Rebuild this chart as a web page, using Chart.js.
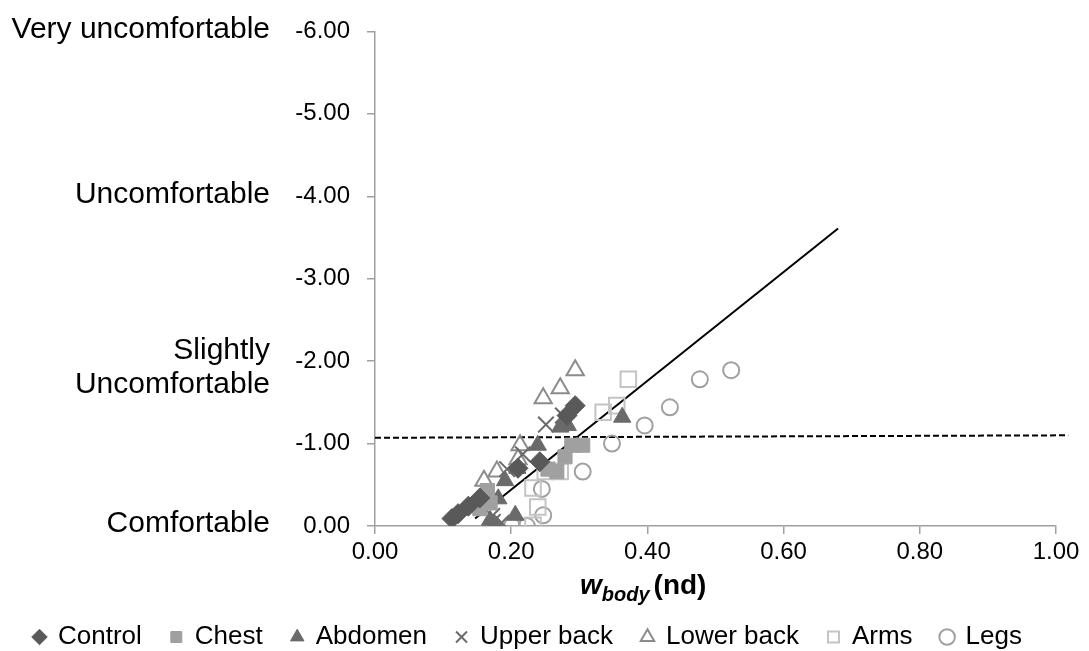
<!DOCTYPE html>
<html>
<head>
<meta charset="utf-8">
<script src="https://cdn.jsdelivr.net/npm/chart.js@4"></script>
<style>
  html, body { margin: 0; padding: 0; background: #fff; }
</style>
</head>
<body>
<canvas id="comfortChart" width="1089" height="651"></canvas>
<script>
// w_body (x) and comfort vote (y) per body region
const controlX = [0.113, 0.122, 0.137, 0.154, 0.210, 0.242, 0.282, 0.294];
const controlY = [-0.09, -0.15, -0.24, -0.34, -0.70, -0.78, -1.34, -1.46];
const chestX = [0.154, 0.169, 0.165, 0.254, 0.267, 0.279, 0.289, 0.305];
const chestY = [-0.21, -0.28, -0.43, -0.69, -0.66, -0.84, -0.98, -0.98];
const abdomenX = [0.179, 0.169, 0.206, 0.181, 0.191, 0.209, 0.239, 0.272, 0.283, 0.363];
const abdomenY = [0.00, -0.07, -0.13, -0.33, -0.55, -0.70, -0.98, -1.20, -1.22, -1.32];
const upperBackX = [0.173, 0.186, 0.172, 0.194, 0.217, 0.251, 0.276];
const upperBackY = [-0.05, -0.04, -0.12, -0.69, -0.87, -1.23, -1.34];
const lowerBackX = [0.164, 0.160, 0.179, 0.210, 0.213, 0.247, 0.272, 0.294];
const lowerBackY = [-0.27, -0.55, -0.66, -0.81, -0.98, -1.55, -1.67, -1.89];
const armsX = [0.232, 0.239, 0.232, 0.250, 0.272, 0.335, 0.355, 0.372];
const armsY = [-0.01, -0.23, -0.46, -0.66, -0.66, -1.38, -1.46, -1.78];
const legsX = [0.201, 0.223, 0.247, 0.245, 0.305, 0.348, 0.396, 0.433, 0.477, 0.523];
const legsY = [0.00, 0.00, -0.13, -0.45, -0.66, -1.00, -1.22, -1.44, -1.78, -1.89];

const trendX = [0.147, 0.680];
const trendY = [-0.09, -3.61];
const limitX = [0.0, 1.018];
const limitY = [-1.07, -1.10];

const xTicks = [0, 0.2, 0.4, 0.6, 0.8, 1.0];
const yTicks = [-6, -5, -4, -3, -2, -1, 0];
const comfortLabels = [
  { value: -6, lines: ['Very uncomfortable'] },
  { value: -4, lines: ['Uncomfortable'] },
  { value: -2, lines: ['Slightly', 'Uncomfortable'] },
  { value: 0, lines: ['Comfortable'] },
];

function pts(xs, ys) {
  return xs.map((x, i) => ({ x: x, y: ys[i] }));
}

function markerSet(label, xs, ys, style, radius, fill, stroke, bw) {
  return {
    label: label,
    type: 'scatter',
    data: pts(xs, ys),
    pointStyle: style,
    pointRadius: radius,
    pointHoverRadius: radius,
    backgroundColor: fill,
    borderColor: stroke,
    pointBorderWidth: bw,
    borderWidth: bw,
  };
}

const FONT = '"Liberation Sans", Arial, sans-serif';

const sideLabels = {
  id: 'sideLabels',
  afterDraw(chart) {
    const ctx = chart.ctx;
    const y = chart.scales.y;
    ctx.save();
    ctx.fillStyle = '#000';
    ctx.font = '30px ' + FONT;
    ctx.textAlign = 'right';
    ctx.textBaseline = 'middle';
    comfortLabels.forEach((c) => {
      const py = y.getPixelForValue(c.value);
      if (c.lines.length === 1) {
        ctx.fillText(c.lines[0], 270, py - 2);
      } else {
        ctx.fillText(c.lines[0], 270, py - 10);
        ctx.fillText(c.lines[1], 270, py + 24);
      }
    });

    // x-axis title: w_body (nd)
    let tx = 580;
    const ty = 594;
    ctx.textAlign = 'left';
    ctx.textBaseline = 'alphabetic';
    ctx.font = 'italic bold 28px ' + FONT;
    ctx.fillText('w', tx, ty);
    tx += ctx.measureText('w').width;
    ctx.font = 'italic bold 20px ' + FONT;
    ctx.fillText('body', tx, ty + 7);
    tx += ctx.measureText('body').width + 4;
    ctx.font = 'bold 28px ' + FONT;
    ctx.fillText('(nd)', tx, ty);
    ctx.restore();
  },
};

new Chart(document.getElementById('comfortChart'), {
  data: {
    datasets: [
      markerSet('Control', controlX, controlY, 'rectRot', 10, '#595959', '#595959', 1),
      markerSet('Chest', chestX, chestY, 'rect', 10, '#a0a0a0', '#a0a0a0', 1),
      markerSet('Abdomen', abdomenX, abdomenY, 'triangle', 10, '#6a6a6a', '#6a6a6a', 1),
      markerSet('Upper back', upperBackX, upperBackY, 'crossRot', 11, '#6a6a6a', '#6a6a6a', 2),
      markerSet('Lower back', lowerBackX, lowerBackY, 'triangle', 10, 'rgba(255,255,255,0)', '#8c8c8c', 2),
      markerSet('Arms', armsX, armsY, 'rect', 11, 'rgba(255,255,255,0)', '#c4c4c4', 2),
      markerSet('Legs', legsX, legsY, 'circle', 8, 'rgba(255,255,255,0)', '#a0a0a0', 2),
      {
        label: 'trend',
        type: 'line',
        data: pts(trendX, trendY),
        borderColor: '#000',
        borderWidth: 2,
        pointRadius: 0,
        fill: false,
      },
      {
        label: 'limit',
        type: 'line',
        data: pts(limitX, limitY),
        borderColor: '#000',
        borderWidth: 2,
        borderDash: [6, 3],
        pointRadius: 0,
        fill: false,
        clip: false,
      },
    ],
  },
  options: {
    responsive: false,
    animation: false,
    devicePixelRatio: 1,
    layout: { padding: { top: 20, right: 33, left: 0, bottom: -9 } },
    plugins: {
      tooltip: { enabled: false },
      legend: {
        position: 'bottom',
        labels: {
          filter: (item) => item.text !== 'trend' && item.text !== 'limit',
          usePointStyle: true,
          boxHeight: 11,
          boxWidth: 11,
          padding: 29,
          color: '#000',
          font: { family: FONT, size: 26 },
        },
      },
    },
    scales: {
      x: {
        type: 'linear',
        min: 0,
        max: 1,
        afterBuildTicks: (s) => { s.ticks = xTicks.map((v) => ({ value: v })); },
        afterFit: (s) => { s.height = 69; },
        ticks: {
          color: '#000',
          font: { family: FONT, size: 24 },
          padding: 4,
          callback: (v) => Number(v).toFixed(2),
        },
        grid: { drawOnChartArea: false, drawTicks: true, tickLength: 8, color: '#a0a0a0', lineWidth: 1.5 },
        border: { display: true, color: '#a0a0a0', width: 1.5 },
      },
      y: {
        type: 'linear',
        min: -6,
        max: 0,
        reverse: true,
        afterBuildTicks: (s) => { s.ticks = yTicks.map((v) => ({ value: v })); },
        afterFit: (s) => { s.width = 375; },
        ticks: {
          color: '#000',
          font: { family: FONT, size: 24 },
          padding: 17,
          callback: (v) => Number(v).toFixed(2),
        },
        grid: { drawOnChartArea: false, drawTicks: true, tickLength: 8, color: '#a0a0a0', lineWidth: 1.5 },
        border: { display: true, color: '#a0a0a0', width: 1.5 },
      },
    },
  },
  plugins: [sideLabels],
});
</script>
</body>
</html>
